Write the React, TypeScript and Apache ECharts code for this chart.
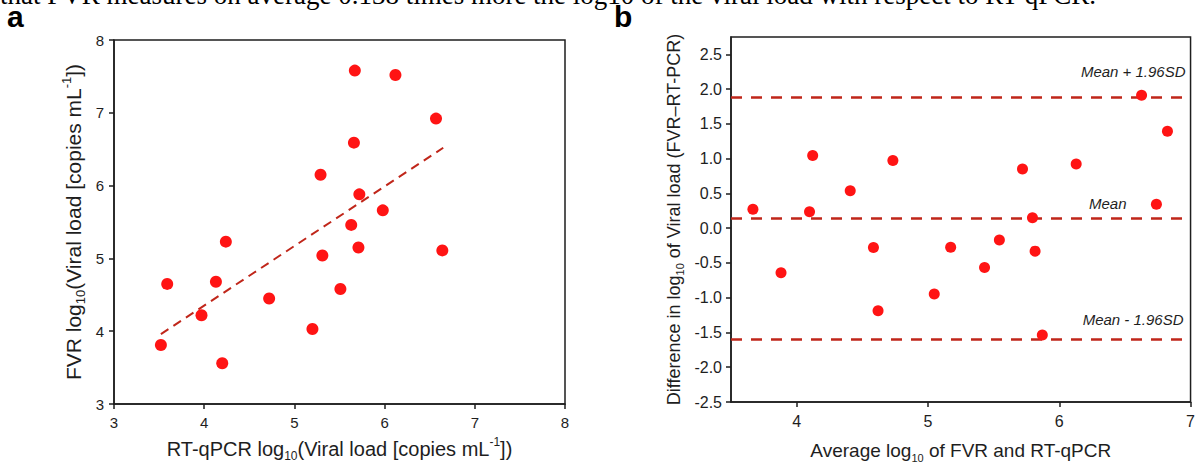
import React, { useEffect, useRef } from "react";
import * as echarts from "echarts";

// Panel a: RT-qPCR vs FVR (log10 viral load)
const rtqpcr = [5.67, 6.12, 6.57, 5.66, 5.29, 5.72, 5.98, 5.63, 4.24, 5.71, 6.64, 5.31, 3.59, 4.13, 5.51, 4.72, 3.97, 5.2, 3.52, 4.2];
const fvr = [7.58, 7.52, 6.92, 6.59, 6.15, 5.88, 5.66, 5.46, 5.23, 5.15, 5.11, 5.04, 4.65, 4.68, 4.58, 4.45, 4.22, 4.03, 3.81, 3.56];
const fitX = [3.52, 6.65];
const fitY = [3.96, 6.52];

// Panel b: Bland-Altman
const baAvg = [3.667, 3.881, 4.098, 4.122, 4.408, 4.585, 4.62, 4.733, 5.048, 5.173, 5.431, 5.544, 5.72, 5.796, 5.816, 5.871, 6.129, 6.627, 6.74, 6.824];
const baDiff = [0.273, -0.64, 0.235, 1.045, 0.537, -0.278, -1.186, 0.975, -0.946, -0.273, -0.565, -0.169, 0.852, 0.151, -0.33, -1.535, 0.923, 1.911, 0.344, 1.394];
const limitValues = [1.88, 0.138, -1.604];
const limitLabels = ["Mean + 1.96SD", "Mean", "Mean - 1.96SD"];

const aTicks = [3, 4, 5, 6, 7, 8];
const bXTicks = [4, 5, 6, 7];
const bYTicks = [-2.5, -2, -1.5, -1, -0.5, 0, 0.5, 1, 1.5, 2, 2.5];

const topLine = "that FVR measures on average 0.138 times more the log10 of the viral load with respect to RT-qPCR.";

const FONT = "Liberation Sans";
const INK = "#1e1e1e";
const RED = "#ff1414";
const DARKRED = "#c0261a";

const axisLine = { show: true, onZero: false, lineStyle: { color: INK, width: 1.5 } };
const axisTick = { show: true, length: 5, lineStyle: { color: INK, width: 1.5 } };
const mkName = (size: number) => ({
  fontSize: size,
  fontFamily: FONT,
  color: INK,
  lineHeight: Math.round(size * 1.3),
  rich: {
    sub: { fontSize: Math.round(size * 0.6), lineHeight: Math.round(size * 0.6), verticalAlign: "bottom", fontFamily: FONT, color: INK },
    sup: { fontSize: Math.round(size * 0.6), lineHeight: Math.round(size * 0.9), verticalAlign: "top", fontFamily: FONT, color: INK },
  },
});
const labelA = { color: INK, fontSize: 15, fontFamily: FONT };
const labelB = { color: INK, fontSize: 16, fontFamily: FONT };

const labelDist = [[5, 18], [64, 7], [7, 12]];

export default function App() {
  const ref = useRef<HTMLDivElement>(null);
  useEffect(() => {
    if (!ref.current) return;
    const chart = echarts.init(ref.current, null, { renderer: "svg" });
    chart.setOption({
      animation: false,
      backgroundColor: "#ffffff",
      grid: [
        { left: 114, top: 40, width: 451, height: 364, show: true, borderColor: INK, borderWidth: 1.5 },
        { left: 731, top: 37, width: 460, height: 371, show: true, borderColor: INK, borderWidth: 1.5 },
      ],
      xAxis: [
        {
          type: "value", gridIndex: 0, min: 3, max: 8, interval: 1,
          axisLine, axisTick, splitLine: { show: false },
          axisLabel: { ...labelA, margin: 11, customValues: aTicks },
          name: "RT-qPCR log{sub|10}(Viral load [copies mL{sup|-1}])",
          nameLocation: "middle", nameGap: 32, nameTextStyle: mkName(20),
        },
        {
          type: "value", gridIndex: 1, min: 3.5, max: 7,
          axisLine, axisTick: { ...axisTick, customValues: bXTicks }, splitLine: { show: false },
          axisLabel: { ...labelB, margin: 11, customValues: bXTicks },
          name: "Average log{sub|10} of FVR and RT-qPCR",
          nameLocation: "middle", nameGap: 36, nameTextStyle: mkName(19),
        },
      ],
      yAxis: [
        {
          type: "value", gridIndex: 0, min: 3, max: 8, interval: 1,
          axisLine, axisTick, splitLine: { show: false },
          axisLabel: { ...labelA, margin: 10 },
          name: "FVR log{sub|10}(Viral load [copies mL{sup|-1}])",
          nameLocation: "middle", nameGap: 27, nameTextStyle: mkName(21),
        },
        {
          type: "value", gridIndex: 1, min: -2.5, max: 2.75,
          axisLine, axisTick: { ...axisTick, customValues: bYTicks }, splitLine: { show: false },
          axisLabel: { ...labelB, margin: 9, customValues: bYTicks, formatter: (v: number) => v.toFixed(1) },
          name: "Difference in log{sub|10} of Viral load (FVR–RT-PCR)",
          nameLocation: "middle", nameGap: 46, nameTextStyle: mkName(18),
        },
      ],
      series: [
        {
          type: "line", xAxisIndex: 0, yAxisIndex: 0, z: 1,
          data: fitX.map((x, i) => [x, fitY[i]]),
          symbol: "none",
          lineStyle: { color: DARKRED, width: 2, type: [9, 6] },
        },
        {
          type: "scatter", xAxisIndex: 0, yAxisIndex: 0, z: 3,
          data: rtqpcr.map((x, i) => [x, fvr[i]]),
          symbol: "circle", symbolSize: 12,
          itemStyle: { color: RED, opacity: 1 },
        },
        {
          type: "line", xAxisIndex: 1, yAxisIndex: 1, z: 1, data: [],
          markLine: {
            silent: true, z: 1,
            symbol: ["none", "none"],
            lineStyle: { color: DARKRED, width: 2.5, type: [11, 9] },
            data: limitValues.map((v, i) => ({
              yAxis: v,
              label: {
                show: true, position: "insideEndTop", formatter: limitLabels[i],
                distance: labelDist[i], color: INK, fontSize: 15, fontStyle: "italic", fontFamily: FONT,
              },
            })),
          },
        },
        {
          type: "scatter", xAxisIndex: 1, yAxisIndex: 1, z: 3,
          data: baAvg.map((x, i) => [x, baDiff[i]]),
          symbol: "circle", symbolSize: 11,
          itemStyle: { color: RED, opacity: 1 },
        },
      ],
      graphic: [
        { type: "text", x: 0, y: 8, style: { text: topLine, font: '27px "Liberation Serif"', fill: "#000", verticalAlign: "bottom" } },
        { type: "text", x: 7, y: 31, style: { text: "a", font: 'bold 30px "Liberation Sans"', fill: "#000", verticalAlign: "bottom" } },
        { type: "text", x: 614, y: 31, style: { text: "b", font: 'bold 30px "Liberation Sans"', fill: "#000", verticalAlign: "bottom" } },
      ],
    });
    return () => chart.dispose();
  }, []);
  return <div ref={ref} style={{ position: "absolute", left: 0, top: 0, width: 1198, height: 468 }} />;
}
